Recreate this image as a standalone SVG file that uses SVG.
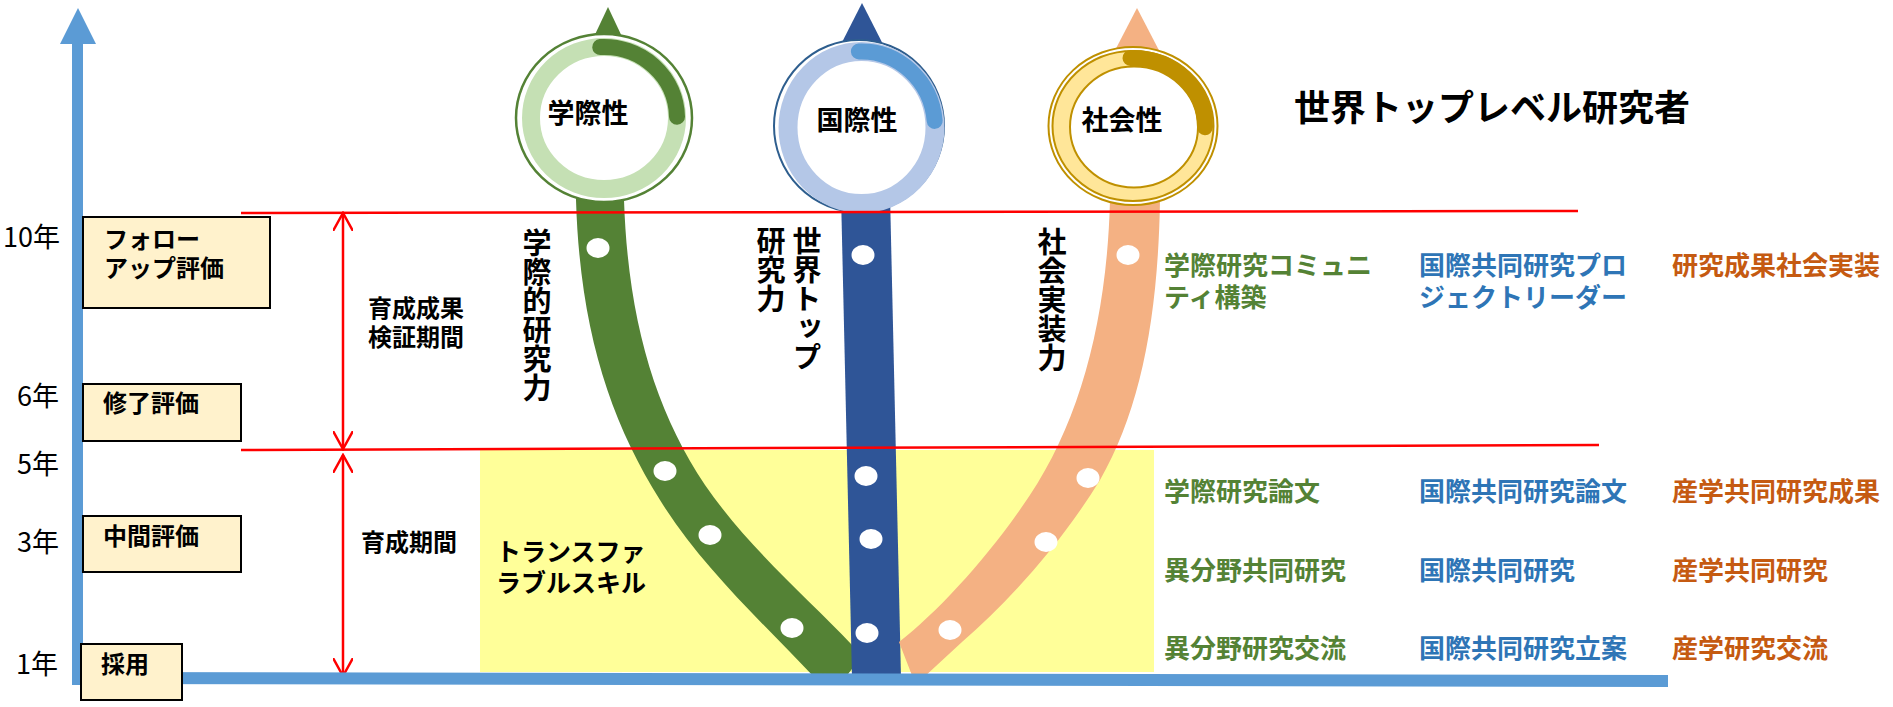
<svg xmlns="http://www.w3.org/2000/svg" width="1893" height="707" viewBox="0 0 1893 707">
<defs>
<style>
text{font-family:"Noto Sans CJK JP","Noto Sans",sans-serif;}
.b{font-weight:bold;fill:#000;}
.yr{font-size:27px;fill:#000;}
.box{fill:#FFF2CC;stroke:#000;stroke-width:2;}
.bt{font-size:24px;font-weight:bold;fill:#000;}
.g{fill:#548235;font-weight:bold;font-size:26px;}
.bl{fill:#2E75B6;font-weight:bold;font-size:26px;}
.o{fill:#C55A11;font-weight:bold;font-size:26px;}
.vt{font-size:29px;font-weight:bold;fill:#000;writing-mode:vertical-rl;}
.cl{font-size:27px;font-weight:bold;fill:#000;text-anchor:middle;}
.red{stroke:#FF0000;stroke-width:2.5;fill:none;}
.dot{fill:#fff;}
.arc{fill:none;stroke-width:16;stroke-linecap:round;}
</style>
<marker id="rh" viewBox="0 0 20 20" refX="18" refY="10" markerWidth="20" markerHeight="20" markerUnits="userSpaceOnUse" orient="auto-start-reverse">
<path d="M0,0 L18,10 L0,20" fill="none" stroke="#FF0000" stroke-width="2.5"/>
</marker>
</defs>

<rect id="skill-area" x="480" y="450" width="674" height="222" fill="#FFFF99"/>

<g id="track-green">
<polygon points="608,7 583,60 633,60" fill="#548235"/>
<path d="M576,150 L576,200 C580,330 610,420 660,500 C700,565 760,620 815,678 L845,678 L855,665 L852,645 C810,600 750,550 705,485 C655,410 628,320 624,200 L624,150 Z" fill="#548235"/>
<ellipse class="dot" cx="598" cy="248" rx="11.5" ry="10"/>
<ellipse class="dot" cx="665" cy="471" rx="11.5" ry="10"/>
<ellipse class="dot" cx="710" cy="535" rx="11.5" ry="10"/>
<ellipse class="dot" cx="792" cy="628" rx="11.5" ry="10"/>
</g>
<g id="track-blue">
<polygon points="862,3 833,60 891,60" fill="#2F5597"/>
<path d="M840,150 L889,150 L901,678 L852,678 Z" fill="#2F5597"/>
<ellipse class="dot" cx="863" cy="255" rx="11.5" ry="10"/>
<ellipse class="dot" cx="866" cy="476" rx="11.5" ry="10"/>
<ellipse class="dot" cx="871" cy="539" rx="11.5" ry="10"/>
<ellipse class="dot" cx="867" cy="633" rx="11.5" ry="10"/>
</g>
<g id="track-orange">
<polygon points="1137,8 1110,60 1164,60" fill="#F4B183"/>
<path d="M1110,150 L1110,200 C1107,320 1080,420 1030,495 C990,555 940,610 899,642 L913,678 L923,678 L962,642 C1010,600 1060,545 1100,480 C1140,410 1158,320 1160,200 L1160,150 Z" fill="#F4B183"/>
<ellipse class="dot" cx="1128" cy="255" rx="11.5" ry="10"/>
<ellipse class="dot" cx="1088" cy="478" rx="11.5" ry="10"/>
<ellipse class="dot" cx="1046" cy="542" rx="11.5" ry="10"/>
<ellipse class="dot" cx="950" cy="630" rx="11.5" ry="10"/>
</g>

<g id="circle-gakusai">
<ellipse cx="604" cy="118" rx="88" ry="84" fill="#fff" stroke="#548235" stroke-width="2.5"/>
<ellipse cx="604" cy="118" rx="73" ry="71" fill="#fff" stroke="#C5E0B4" stroke-width="18"/>
<path class="arc" stroke="#548235" d="M600.2,47.1 A73,71 0 0 1 677,116.8"/>
<text class="cl" x="588" y="123">学際性</text>
</g>
<g id="circle-kokusai">
<ellipse cx="859" cy="126" rx="85" ry="86" fill="#fff" stroke="#2E5E8E" stroke-width="2"/>
<ellipse cx="861.5" cy="127.5" rx="73.5" ry="76" fill="#fff" stroke="#B4C7E7" stroke-width="19"/>
<path class="arc" stroke="#5B9BD5" d="M858.9,51.5 A73.5,76 0 0 1 934.7,120.9"/>
<text class="cl" x="857" y="130">国際性</text>
</g>
<g id="circle-shakai">
<ellipse cx="1133" cy="126" rx="84.5" ry="79" fill="#fff" stroke="#BF9000" stroke-width="2"/>
<ellipse cx="1133" cy="126" rx="80.5" ry="75" fill="#FFE699" stroke="#BF9000" stroke-width="2"/>
<ellipse cx="1134" cy="127" rx="64" ry="60.5" fill="#fff" stroke="#BF9000" stroke-width="2"/>
<path class="arc" stroke="#BF9000" d="M1130.5,58 A72,68 0 0 1 1205,127.2"/>
<text class="cl" x="1122" y="130">社会性</text>
</g>

<g id="connectors">
<line x1="241" y1="213" x2="1578" y2="211" class="red"/>
<line x1="241" y1="450" x2="1599" y2="445" class="red"/>
<line x1="343" y1="213" x2="343" y2="449" class="red" marker-start="url(#rh)" marker-end="url(#rh)"/>
<line x1="343" y1="455" x2="343" y2="676" class="red" marker-start="url(#rh)" marker-end="url(#rh)"/>
<rect x="72" y="40" width="11" height="645" fill="#5B9BD5"/>
<polygon points="78,8 60,44 96,44" fill="#5B9BD5"/>
<line x1="72" y1="678" x2="1668" y2="681" stroke="#5B9BD5" stroke-width="12"/>
</g>

<g id="years">
<text class="yr" x="3" y="247">10年</text>
<text class="yr" x="17" y="406">6年</text>
<text class="yr" x="17" y="474">5年</text>
<text class="yr" x="17" y="552">3年</text>
<text class="yr" x="16" y="674">1年</text>
</g>

<g id="box-follow">
<rect class="box" x="83" y="217" width="187" height="91"/>
<text class="bt" x="104" y="248">フォロー</text>
<text class="bt" x="104" y="277">アップ評価</text>
</g>
<g id="box-shuryo">
<rect class="box" x="83" y="384" width="158" height="57"/>
<text class="bt" x="103" y="412">修了評価</text>
</g>
<g id="box-chukan">
<rect class="box" x="83" y="516" width="158" height="56"/>
<text class="bt" x="103" y="545">中間評価</text>
</g>
<g id="box-saiyo">
<rect class="box" x="81" y="644" width="101" height="56"/>
<text class="bt" x="101" y="673">採用</text>
</g>

<g id="labels">
<text class="bt" x="368" y="317">育成成果</text>
<text class="bt" x="368" y="346">検証期間</text>
<text class="bt" x="361" y="551">育成期間</text>
<text class="b" style="font-size:25px" x="496" y="561">トランスファ</text>
<text class="b" style="font-size:25px" x="496" y="592">ラブルスキル</text>
<text class="vt" x="537" y="228">学際的研究力</text>
<text class="vt" x="807" y="226">世界トップ</text>
<text class="vt" x="771" y="226">研究力</text>
<text class="vt" x="1052" y="227">社会実装力</text>
<text class="b" style="font-size:36px" x="1294" y="121">世界トップレベル研究者</text>
</g>

<g id="outcomes">
<text class="g" x="1164" y="275">学際研究コミュニ</text>
<text class="g" x="1164" y="307">ティ構築</text>
<text class="bl" x="1419" y="275">国際共同研究プロ</text>
<text class="bl" x="1419" y="307">ジェクトリーダー</text>
<text class="o" x="1672" y="275">研究成果社会実装</text>
<text class="g" x="1164" y="501">学際研究論文</text>
<text class="bl" x="1419" y="501">国際共同研究論文</text>
<text class="o" x="1672" y="501">産学共同研究成果</text>
<text class="g" x="1164" y="580">異分野共同研究</text>
<text class="bl" x="1419" y="580">国際共同研究</text>
<text class="o" x="1672" y="580">産学共同研究</text>
<text class="g" x="1164" y="658">異分野研究交流</text>
<text class="bl" x="1419" y="658">国際共同研究立案</text>
<text class="o" x="1672" y="658">産学研究交流</text>
</g>
</svg>
